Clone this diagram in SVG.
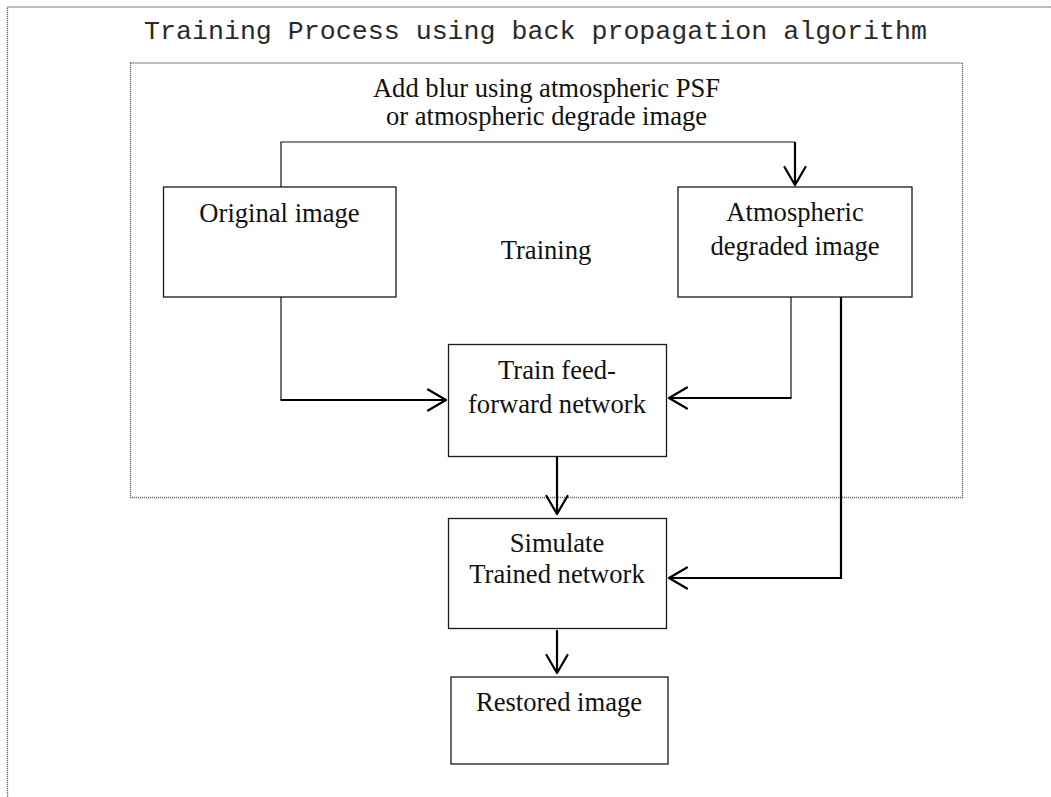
<svg xmlns="http://www.w3.org/2000/svg" width="1051" height="797" viewBox="0 0 1051 797">
  <style>
    .frame { fill: none; stroke: #6e6e6e; stroke-width: 1.3; stroke-dasharray: 1.2 0.8; }
    .box { fill: #ffffff; stroke: #1a1a1a; stroke-width: 1.3; }
    .lbl { font-family: "Liberation Serif", "Times New Roman", serif; font-size: 26.6px; fill: #111; text-anchor: middle; }
    .title { font-family: "Liberation Mono", "Courier New", monospace; font-size: 25px; fill: #2a2a2a; }
    .thin { fill: none; stroke: #111; stroke-width: 1.2; }
    .thick { fill: none; stroke: #000; stroke-width: 2.2; }
  </style>
  <defs>
    <marker id="chev" markerUnits="userSpaceOnUse" viewBox="-21 -13 24 26" markerWidth="24" markerHeight="26" refX="0" refY="0" orient="auto">
      <path d="M-18,-10.5 L0,0 L-18,10.5" fill="none" stroke="#000" stroke-width="2.2" stroke-linejoin="round" stroke-linecap="round"/>
    </marker>
  </defs>

  <rect width="1051" height="797" fill="#ffffff"/>

  <!-- outer frame and title -->
  <g id="process-frame">
    <rect class="frame" x="7.5" y="7" width="1060" height="800"/>
    <text class="title" x="144" y="39" textLength="783" lengthAdjust="spacingAndGlyphs">Training Process using back propagation algorithm</text>
  </g>

  <!-- training stage frame -->
  <g id="training-frame">
    <rect class="frame" x="130.5" y="63" width="832" height="434.5"/>
    <text class="lbl" x="546.5" y="97">Add blur using atmospheric PSF</text>
    <text class="lbl" x="546.5" y="125">or atmospheric degrade image</text>
    <text class="lbl" x="546" y="258.5">Training</text>
  </g>

  <g id="original-image">
    <rect class="box" x="163.5" y="187" width="232.5" height="110"/>
    <text class="lbl" x="279.5" y="222">Original image</text>
  </g>

  <g id="degraded-image">
    <rect class="box" x="678" y="187" width="234" height="110"/>
    <text class="lbl" x="795" y="221">Atmospheric</text>
    <text class="lbl" x="795" y="255">degraded image</text>
  </g>

  <g id="train-network">
    <rect class="box" x="448.5" y="344.5" width="218" height="112"/>
    <text class="lbl" x="557" y="379">Train feed-</text>
    <text class="lbl" x="557" y="413">forward network</text>
  </g>

  <g id="simulate-network">
    <rect class="box" x="448.5" y="518.5" width="218" height="110"/>
    <text class="lbl" x="557" y="552">Simulate</text>
    <text class="lbl" x="557" y="583">Trained network</text>
  </g>

  <g id="restored-image">
    <rect class="box" x="451" y="677" width="217" height="87"/>
    <text class="lbl" x="559" y="710.5">Restored image</text>
  </g>

  <g id="connectors">
    <!-- blur path: original to degraded -->
    <path class="thin" d="M281,187 V142 H795"/>
    <path class="thick" d="M795,142 V185" marker-end="url(#chev)"/>
    <!-- original image into training -->
    <path class="thin" d="M281,297 V400"/>
    <path class="thick" d="M280.5,400 H446" marker-end="url(#chev)"/>
    <!-- degraded image into training -->
    <path class="thin" d="M791,297 V398"/>
    <path class="thick" d="M791.5,398 H669" marker-end="url(#chev)"/>
    <!-- degraded image into simulation -->
    <path class="thick" d="M841,297 V578 H669" marker-end="url(#chev)"/>
    <!-- training to simulation -->
    <path class="thick" d="M557,457 V514" marker-end="url(#chev)"/>
    <!-- simulation to restored -->
    <path class="thick" d="M557,630 V673" marker-end="url(#chev)"/>
  </g>
</svg>
